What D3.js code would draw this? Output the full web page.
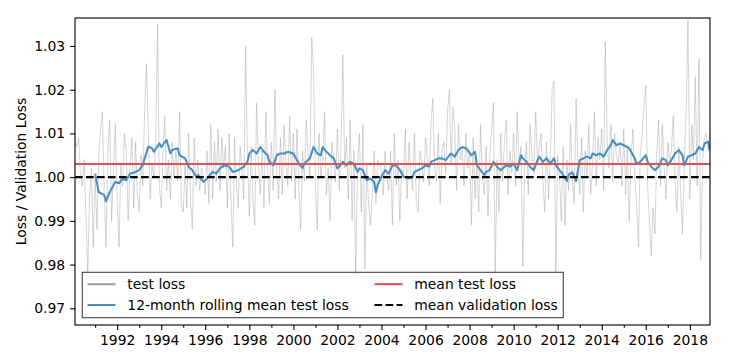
<!DOCTYPE html>
<html><head><meta charset="utf-8">
<script src="https://cdn.jsdelivr.net/npm/d3@7/dist/d3.min.js"></script>
<style>
html,body{margin:0;padding:0;background:#fff;}
text{font-family:"DejaVu Sans",sans-serif;}
</style></head>
<body><svg id="chart" width="729" height="364"></svg>
<script>
// ---------- data ----------
const firstMonth = "1990-02";   // monthly test loss, Feb 1990 .. Dec 2018
const testLoss = [
1.008,1.007,1.009,1.001,0.998,1.004,0.991,0.978,0.996,1.002,0.984,1.000,
0.988,1.005,1.011,1.015,0.996,0.984,1.006,1.013,0.990,1.001,1.012,0.995,
0.984,1.003,0.998,1.010,1.006,0.990,1.002,1.009,0.993,1.008,0.996,0.992,
1.005,0.998,1.015,1.026,1.010,0.995,1.003,0.9997,1.008,1.035,0.998,0.993,
1.006,1.014,0.997,1.004,0.995,1.008,1.000,1.006,0.999,1.015,0.994,0.992,
1.003,0.993,1.010,0.995,0.988,1.009,0.998,1.004,0.997,1.002,1.000,0.996,
1.006,0.994,1.012,0.995,1.008,0.999,1.011,0.997,1.009,1.002,1.007,0.993,
1.010,0.995,0.984,1.009,0.998,0.993,1.007,1.002,0.995,1.030,1.004,0.991,
1.007,0.995,0.989,1.017,1.003,0.996,1.006,0.993,1.015,1.002,0.994,1.008,
0.997,1.020,1.001,0.995,1.009,0.996,1.012,1.003,0.998,1.014,0.999,1.010,
0.995,1.011,0.998,0.988,1.006,0.999,1.013,1.005,1.000,1.032,1.024,0.998,
0.988,1.010,1.000,1.004,1.015,0.996,1.002,0.990,1.008,1.004,0.999,1.011,
0.997,1.007,1.028,1.002,1.009,0.995,1.013,0.990,1.006,0.977,1.003,1.010,
0.992,1.012,0.979,1.003,0.994,0.989,0.996,1.006,0.994,1.004,1.003,1.001,
0.996,1.006,1.000,0.997,1.006,0.989,1.010,0.998,1.004,0.990,1.002,1.000,
1.011,0.995,1.008,1.001,0.997,1.010,0.994,0.992,1.006,1.003,0.999,1.009,
1.004,0.998,1.012,1.018,1.002,0.999,1.010,0.994,1.006,1.008,1.001,1.015,
1.020,1.003,1.016,1.011,0.997,1.012,1.004,1.007,0.998,1.010,1.002,1.006,
0.989,1.009,0.995,1.003,0.992,1.012,1.000,0.996,1.007,0.991,1.005,1.011,
1.017,0.977,1.004,0.992,1.010,0.999,1.008,1.013,0.996,1.006,1.001,1.010,
0.998,1.015,1.003,1.007,0.9795,1.002,1.008,0.996,1.012,1.005,1.001,1.015,
1.003,1.007,1.010,0.999,0.992,1.008,0.995,1.004,1.020,1.022,0.978,1.005,
1.000,0.990,1.007,0.989,1.004,0.997,1.012,0.999,0.994,1.018,1.003,0.996,
1.009,0.992,1.006,1.000,1.012,0.996,1.003,1.015,0.998,1.009,1.004,1.011,
0.997,1.031,1.008,1.002,1.012,0.999,1.010,1.005,1.003,1.008,0.998,1.011,
0.996,1.007,0.990,1.004,1.011,1.000,0.994,0.984,1.005,1.010,1.016,1.021,
0.998,0.990,0.982,0.993,0.987,1.005,1.013,0.998,1.012,1.002,0.995,1.008,
1.003,1.006,1.014,0.999,0.992,1.007,0.996,0.987,1.004,1.015,1.036,0.995,
1.012,1.004,1.023,0.998,1.027,0.981,1.004,1.009,1.010,1.006,1.010
];

const rollingMonths = [
"1991-01","1991-03","1991-06","1991-07","1991-09","1991-12","1992-02","1992-04","1992-06","1992-08","1992-11",
"1993-01","1993-03","1993-04","1993-06","1993-08","1993-09","1993-12","1994-01","1994-04","1994-06","1994-07",
"1994-10","1994-11","1995-02","1995-04","1995-06","1995-08","1995-09","1995-12","1996-02","1996-05","1996-07",
"1996-09","1996-11","1997-02","1997-04","1997-07","1997-10","1997-12","1998-01","1998-03","1998-05","1998-07",
"1998-09","1998-11","1998-12","1999-02","1999-04","1999-06","1999-08","1999-10","2000-01","2000-04","2000-06",
"2000-07","2000-10","2000-12","2001-02","2001-04","2001-05","2001-07","2001-09","2001-11","2002-01","2002-02",
"2002-04","2002-06","2002-08","2002-10","2002-12","2003-01","2003-03","2003-05","2003-07","2003-09","2003-10",
"2003-11","2004-01","2004-03","2004-05","2004-07","2004-09","2004-11","2005-01","2005-04","2005-06","2005-07",
"2005-09","2005-11","2006-01","2006-03","2006-04","2006-06","2006-08","2006-10","2006-12","2007-02","2007-03",
"2007-05","2007-07","2007-09","2007-11","2007-12","2008-02","2008-04","2008-05","2008-07","2008-09","2008-10",
"2008-12","2009-02","2009-04","2009-06","2009-07","2009-09","2009-11","2010-01","2010-03","2010-05","2010-06",
"2010-08","2010-10","2010-12","2011-02","2011-03","2011-05","2011-07","2011-09","2011-11","2011-12","2012-02",
"2012-04","2012-06","2012-07","2012-09","2012-11","2013-01","2013-03","2013-05","2013-07","2013-08","2013-10",
"2013-12","2014-02","2014-04","2014-06","2014-07","2014-09","2014-11","2015-01","2015-03","2015-04","2015-07",
"2015-08","2015-10","2016-01","2016-02","2016-04","2016-06","2016-08","2016-10","2016-12","2017-01","2017-03",
"2017-05","2017-07","2017-09","2017-10","2017-12","2018-02","2018-04","2018-06","2018-08","2018-09","2018-11",
"2018-12"
];
const rollingMean = [
1.0008,0.9966,0.9959,0.9945,0.9966,0.9989,0.9986,0.9997,0.9993,1.0008,1.0012,
1.0016,1.0028,1.0043,1.0070,1.0066,1.0058,1.0077,1.0069,1.0085,1.0054,1.0062,
1.0066,1.0050,1.0043,1.0024,1.0016,1.0001,1.0005,0.9989,0.9997,1.0012,1.0008,
1.0020,1.0027,1.0024,1.0012,1.0016,1.0024,1.0035,1.0054,1.0062,1.0054,1.0069,
1.0058,1.0050,1.0035,1.0027,1.0050,1.0054,1.0054,1.0058,1.0054,1.0031,1.0021,
1.0031,1.0043,1.0069,1.0054,1.0050,1.0069,1.0058,1.0050,1.0043,1.0020,1.0024,
1.0035,1.0027,1.0035,1.0031,1.0012,1.0020,1.0016,0.9993,0.9997,0.9989,0.9966,
0.9982,1.0001,1.0016,1.0008,1.0027,1.0027,1.0016,1.0001,0.9997,1.0001,1.0012,
1.0016,1.0020,1.0027,1.0024,1.0035,1.0039,1.0043,1.0043,1.0039,1.0050,1.0054,
1.0047,1.0062,1.0069,1.0066,1.0062,1.0050,1.0058,1.0027,1.0016,1.0005,1.0012,
1.0016,1.0035,1.0024,1.0016,1.0020,1.0027,1.0024,1.0031,1.0016,1.0050,1.0043,
1.0035,1.0024,1.0016,1.0039,1.0047,1.0035,1.0043,1.0031,1.0043,1.0027,1.0016,
1.0005,0.9991,1.0005,1.0011,0.9991,1.0039,1.0043,1.0047,1.0043,1.0054,1.0050,
1.0054,1.0047,1.0062,1.0073,1.0085,1.0073,1.0077,1.0073,1.0069,1.0066,1.0043,
1.0031,1.0035,1.0050,1.0035,1.0024,1.0016,1.0024,1.0043,1.0039,1.0027,1.0039,
1.0054,1.0062,1.0050,1.0027,1.0047,1.0050,1.0054,1.0069,1.0062,1.0077,1.0081,
1.0062
];
const meanTestLoss = 1.003;
const meanValidationLoss = 1.000;
const yTicks = [0.97, 0.98, 0.99, 1.00, 1.01, 1.02, 1.03];
const yDomain = [0.96618, 1.0364];
const legendLabels = ["test loss", "12-month rolling mean test loss", "mean test loss", "mean validation loss"];
const yLabel = "Loss / Validation Loss";

// ---------- layout ----------
const W = 729, H = 364;
const m = {left: 75, right: 19, top: 18, bottom: 39};
const FS = 13.9;
const svg = d3.select("#chart");
const parseM = d3.timeParse("%Y-%m");

const start = parseM(firstMonth);
const testDates = testLoss.map((_, i) => d3.timeMonth.offset(start, i));
const rollDates = rollingMonths.map(parseM);

const x = d3.scaleTime()
  .domain([testDates[0], testDates[testDates.length - 1]])
  .range([m.left, W - m.right]);
const y = d3.scaleLinear().domain(yDomain).range([H - m.bottom, m.top]);

const plot = svg.append("g");
svg.append("clipPath").attr("id", "clip").append("rect")
  .attr("x", m.left).attr("y", m.top)
  .attr("width", W - m.left - m.right).attr("height", H - m.top - m.bottom);
const g = plot.append("g").attr("clip-path", "url(#clip)");

// test loss
g.append("path")
  .datum(testLoss.map((v, i) => [testDates[i], v]))
  .attr("fill", "none").attr("stroke", "#9a9a9a").attr("stroke-width", 0.7)
  .attr("stroke-opacity", 0.6)
  .attr("d", d3.line().x(d => x(d[0])).y(d => y(d[1])));

// rolling mean
g.append("path")
  .datum(rollingMean.map((v, i) => [rollDates[i], v]))
  .attr("fill", "none").attr("stroke", "#4a90c2").attr("stroke-width", 2.08)
  .attr("stroke-linejoin", "round")
  .attr("d", d3.line().x(d => x(d[0])).y(d => y(d[1])));

// mean test loss
g.append("line")
  .attr("x1", m.left).attr("x2", W - m.right)
  .attr("y1", y(meanTestLoss)).attr("y2", y(meanTestLoss))
  .attr("stroke", "#df5253").attr("stroke-width", 2.08);

// mean validation loss
g.append("line")
  .attr("x1", m.left).attr("x2", W - m.right)
  .attr("y1", y(meanValidationLoss)).attr("y2", y(meanValidationLoss))
  .attr("stroke", "#000").attr("stroke-width", 2.08)
  .attr("stroke-dasharray", "7.7,3.3");

// axes
const yAxis = d3.axisLeft(y).tickValues(yTicks).tickFormat(d3.format(".2f"))
  .tickSize(4.9).tickPadding(4.9);
const yg = svg.append("g").attr("transform", `translate(${m.left},0)`).call(yAxis);
yg.select(".domain").remove();

const majorYears = d3.range(1992, 2019, 2).map(yr => new Date(yr, 0, 1));
const minorYears = d3.range(1991, 2019, 2).map(yr => new Date(yr, 0, 1));
const xAxis = d3.axisBottom(x).tickValues(majorYears).tickFormat(d3.timeFormat("%Y"))
  .tickSize(4.9).tickPadding(4.9);
const xg = svg.append("g").attr("transform", `translate(0,${H - m.bottom})`).call(xAxis);
xg.select(".domain").remove();
const xm = d3.axisBottom(x).tickValues(minorYears).tickFormat("").tickSize(2.8);
const xmg = svg.append("g").attr("transform", `translate(0,${H - m.bottom})`).call(xm);
xmg.select(".domain").remove();

svg.selectAll(".tick text").attr("font-size", FS).attr("fill", "#000")
  .attr("font-family", "DejaVu Sans");
svg.selectAll(".tick line").attr("stroke", "#000").attr("stroke-width", 1.1);

// frame
svg.append("rect").attr("x", m.left).attr("y", m.top)
  .attr("width", W - m.left - m.right).attr("height", H - m.top - m.bottom)
  .attr("fill", "none").attr("stroke", "#000").attr("stroke-width", 1.1);

// y label
svg.append("text")
  .attr("transform", `translate(26,${(m.top + H - m.bottom) / 2}) rotate(-90)`)
  .attr("text-anchor", "middle").attr("font-size", FS).text(yLabel);

// legend
const lg = svg.append("g");
lg.append("rect").attr("x", 82.3).attr("y", 272.3).attr("width", 481).attr("height", 45.4)
  .attr("fill", "#fff").attr("fill-opacity", 0.8)
  .attr("stroke", "#444").attr("stroke-width", 1.1);
const legendItems = [
  {label: legendLabels[0], col: 0, row: 0, stroke: "#a0a0a0", dash: null},
  {label: legendLabels[1], col: 0, row: 1, stroke: "#4a90c2", dash: null},
  {label: legendLabels[2], col: 1, row: 0, stroke: "#df5253", dash: null},
  {label: legendLabels[3], col: 1, row: 1, stroke: "#000", dash: "7.7,3.3"}
];
const colX = [87.5, 374.5];
const rowY = [284.2, 305];
legendItems.forEach(it => {
  const lx = colX[it.col], ly = rowY[it.row];
  lg.append("line").attr("x1", lx).attr("x2", lx + 28).attr("y1", ly).attr("y2", ly)
    .attr("stroke", it.stroke).attr("stroke-width", 2.08)
    .attr("stroke-dasharray", it.dash);
  lg.append("text").attr("x", lx + 39.8).attr("y", ly).attr("dy", "0.35em")
    .attr("font-size", FS).text(it.label);
});
</script></body></html>
